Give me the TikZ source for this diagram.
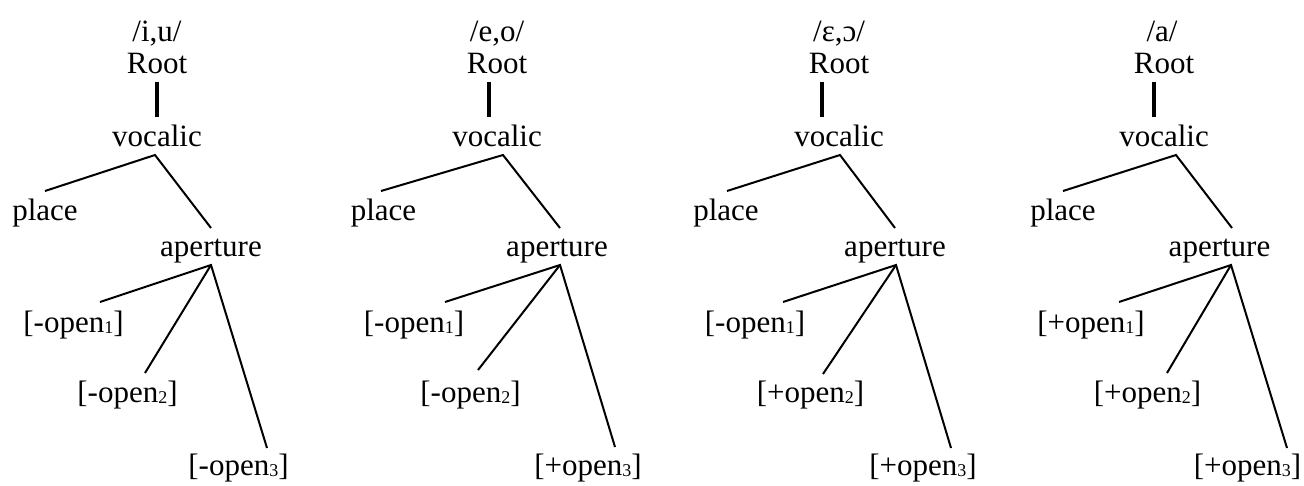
\documentclass[tikz,border=0pt]{standalone}
\usepackage{fontspec}
\setmainfont{Liberation Serif}
\newcommand\sbs[1]{\raisebox{-1.5pt}{\fontsize{18}{18}\selectfont #1}}
\begin{document}
\begin{tikzpicture}[x=1pt,y=-1pt,
  lbl/.style={font=\fontsize{31}{37}\selectfont, inner sep=0pt, anchor=base},
  edge/.style={line width=2pt},
  stem/.style={line width=3.2pt}]
\useasboundingbox (0,0) rectangle (1304,485);
% ---------- tree 1
\node[lbl] (t1) at (157,41) {/i,u/};
\node[lbl] (r1) at (157,73) {Root};
\node[lbl] (v1) at (157,146) {vocalic};
\node[lbl] (p1) at (45,220) {place};
\node[lbl] (a1) at (211,256) {aperture};
\node[lbl] (o11) at (73.5,332) {[-open\sbs{1}]};
\node[lbl] (o12) at (127.5,402) {[-open\sbs{2}]};
\node[lbl] (o13) at (238.5,475) {[-open\sbs{3}]};
\draw[stem] ([yshift=-9pt]r1.base) -- ([yshift=29pt]v1.base);
\draw[edge] ([yshift=29pt]p1.base) -- ([xshift=-2pt,yshift=-9pt]v1.base) -- ([yshift=28pt]a1.base);
\draw[edge] ([xshift=26.5pt,yshift=30pt]o11.base) -- ([yshift=-9pt]a1.base) -- ([xshift=28.5pt,yshift=27pt]o13.base);
\draw[edge] ([yshift=-9pt]a1.base) -- ([xshift=17.5pt,yshift=29pt]o12.base);
% ---------- tree 2
\node[lbl] (t2) at (497,41) {/e,o/};
\node[lbl] (r2) at (497,73) {Root};
\node[lbl] (v2) at (497,146) {vocalic};
\node[lbl] (p2) at (383.5,220) {place};
\node[lbl] (a2) at (557,256) {aperture};
\node[lbl] (o21) at (414,332) {[-open\sbs{1}]};
\node[lbl] (o22) at (470.5,402) {[-open\sbs{2}]};
\node[lbl] (o23) at (588,475) {[+open\sbs{3}]};
\draw[stem] ([xshift=-8pt,yshift=-9pt]r2.base) -- ([xshift=-8pt,yshift=29pt]v2.base);
\draw[edge] ([xshift=-2.5pt,yshift=29pt]p2.base) -- ([xshift=6pt,yshift=-9pt]v2.base) -- ([xshift=3pt,yshift=28pt]a2.base);
\draw[edge] ([xshift=31pt,yshift=30pt]o21.base) -- ([xshift=3pt,yshift=-9pt]a2.base) -- ([xshift=27pt,yshift=28pt]o23.base);
\draw[edge] ([xshift=3pt,yshift=-9pt]a2.base) -- ([xshift=7.5pt,yshift=32pt]o22.base);
% ---------- tree 3
\node[lbl] (t3) at (839,41) {/ɛ,ɔ/};
\node[lbl] (r3) at (839,73) {Root};
\node[lbl] (v3) at (839,146) {vocalic};
\node[lbl] (p3) at (726,220) {place};
\node[lbl] (a3) at (895,256) {aperture};
\node[lbl] (o31) at (755,332) {[-open\sbs{1}]};
\node[lbl] (o32) at (810.5,402) {[+open\sbs{2}]};
\node[lbl] (o33) at (923,475) {[+open\sbs{3}]};
\draw[stem] ([xshift=-17pt,yshift=-9pt]r3.base) -- ([xshift=-17pt,yshift=29pt]v3.base);
\draw[edge] ([xshift=1pt,yshift=29pt]p3.base) -- ([xshift=1pt,yshift=-9pt]v3.base) -- ([yshift=28pt]a3.base);
\draw[edge] ([xshift=28pt,yshift=30pt]o31.base) -- ([xshift=1pt,yshift=-9pt]a3.base) -- ([xshift=28pt,yshift=27pt]o33.base);
\draw[edge] ([xshift=1pt,yshift=-9pt]a3.base) -- ([xshift=12.5pt,yshift=28pt]o32.base);
% ---------- tree 4
\node[lbl] (t4) at (1162,41) {/a/};
\node[lbl] (r4) at (1164,73) {Root};
\node[lbl] (v4) at (1164,146) {vocalic};
\node[lbl] (p4) at (1063,220) {place};
\node[lbl] (a4) at (1219.5,256) {aperture};
\node[lbl] (o41) at (1091,332) {[+open\sbs{1}]};
\node[lbl] (o42) at (1147.5,402) {[+open\sbs{2}]};
\node[lbl] (o43) at (1247.5,475) {[+open\sbs{3}]};
\draw[stem] ([xshift=-10pt,yshift=-9pt]r4.base) -- ([xshift=-10pt,yshift=29pt]v4.base);
\draw[edge] ([yshift=29pt]p4.base) -- ([xshift=12pt,yshift=-9pt]v4.base) -- ([xshift=12.5pt,yshift=28pt]a4.base);
\draw[edge] ([xshift=28pt,yshift=30pt]o41.base) -- ([xshift=11.5pt,yshift=-9pt]a4.base) -- ([xshift=39.5pt,yshift=27pt]o43.base);
\draw[edge] ([xshift=11.5pt,yshift=-9pt]a4.base) -- ([xshift=19.5pt,yshift=29pt]o42.base);
\end{tikzpicture}
\end{document}
